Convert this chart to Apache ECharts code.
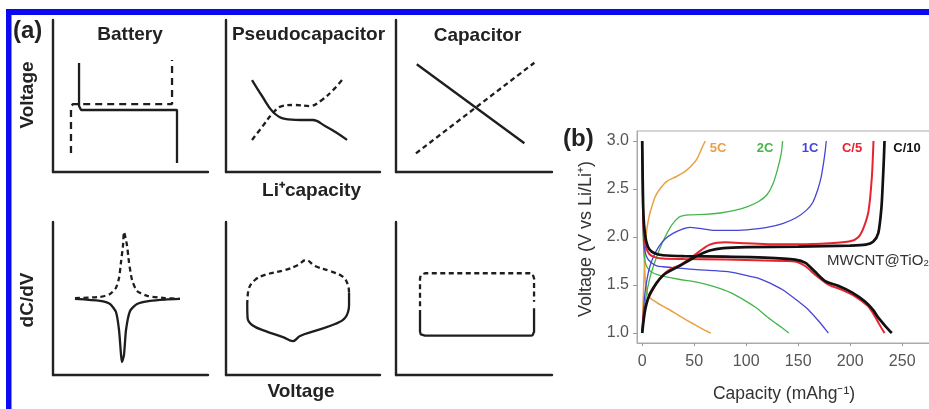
<!DOCTYPE html>
<html><head><meta charset="utf-8">
<script src="https://cdn.jsdelivr.net/npm/echarts@6/dist/echarts.min.js"></script>
<style>html,body{margin:0;padding:0;background:#fff}#c{width:929px;height:409px}</style>
</head><body><div id="c"></div>
<script>
// ---------- Panel (a): schematic curves (axes 0..100) ----------
var battSolid   = [[16.8,71.7],[16.8,43.4],[18.1,40.8],[80,40.8],[80,5.9]];
var battDashed  = [[11.6,12.5],[11.6,43.4],[12.9,44.7],[76.8,44.7],[76.8,73.7]];
var pseudoSolid = [[16.9,60.5],[23.4,50.0],[30.5,39.5],[38.3,34.9],[48.1,34.2],[56.5,34.2],[64.3,30.3],[72.1,25.7],[78.6,21.1]];
var pseudoDashed= [[16.9,21.1],[23.4,29.6],[30.5,38.8],[36.4,43.4],[44.8,44.1],[54.5,43.4],[62.3,47.4],[69.5,53.9],[75.3,60.5]];
var capSolid    = [[13.3,70.9],[82.3,18.9]];
var capDashed   = [[12.8,12.3],[88.7,71.9]];
var dBattDashed = [[14.2,50.3],[30.3,51.0],[36.8,52.9],[40.6,56.9],[42.6,63.4],[43.9,73.9],[45.2,85.0],[45.8,93.5],[47.7,85.0],[49.0,73.9],[51.0,62.1],[54.2,54.9],[61.3,51.6],[72.3,50.3],[81.9,49.7]];
var dBattSolid  = [[14.2,49.7],[30.3,48.4],[36.8,46.4],[40.6,41.2],[42.6,29.4],[43.9,13.1],[44.5,8.5],[45.8,13.1],[47.1,29.4],[49.7,41.8],[54.2,46.4],[62.6,48.4],[72.3,49.3],[81.9,49.7]];
var dPseudoDashed = [[13.8,45.8],[14.6,55.6],[18.8,62.1],[25.3,65.4],[38.3,68.6],[46.8,71.9],[51.9,75.2],[57.8,71.2],[67.5,68.0],[76.0,64.1],[79.2,58.8],[79.9,53.6]];
var dPseudoSolid  = [[13.8,45.8],[14.0,37.3],[16.9,32.7],[25.3,28.8],[37.0,24.8],[43.5,22.2],[48.1,25.5],[57.8,28.8],[70.8,33.3],[77.3,37.3],[79.9,45.8],[79.9,53.6]];
var dCapDashed = [[15.4,45],[15.4,63.2],[15.9,65.3],[17.0,66.3],[18.6,66.5],[85.9,66.5],[87.5,66.3],[88.3,65.3],[88.5,63.2],[88.5,47.9]];
var dCapSolid  = [[15.4,42.5],[15.4,28.3],[15.9,26.5],[17.0,25.9],[18.6,25.7],[85.9,25.7],[87.5,25.9],[88.3,26.5],[88.5,28.3],[88.5,43.6]];

// ---------- Panel (b): charge/discharge (Capacity mAh/g, Voltage V) ----------
var orangeCharge = [[0,1.0],[0.8,1.3],[1.8,1.6],[2.8,1.85],[4,2.04],[6,2.18],[8,2.27],[12.5,2.42],[17,2.5],[23.7,2.58],[33,2.63],[41,2.68],[48,2.75],[53,2.82],[57.5,2.93],[60.6,3.0]];
var orangeDischarge = [[0,3.0],[0.4,2.5],[1,2.1],[2,1.78],[3,1.55],[4.5,1.44],[6,1.39],[8,1.36],[15,1.31],[25,1.25],[37,1.17],[50,1.09],[60,1.03],[66,1.0]];
var greenCharge = [[0,1.0],[1.5,1.2],[3,1.33],[4.5,1.43],[8,1.6],[12.5,1.75],[17,1.88],[22,2.0],[27,2.1],[31,2.16],[36,2.21],[45,2.23],[60,2.235],[75,2.25],[90,2.28],[102,2.32],[112,2.37],[120,2.44],[126,2.56],[130.5,2.72],[133.5,2.86],[135,3.0]];
var greenDischarge = [[0,3.0],[0.4,2.4],[1,2.0],[2,1.8],[4,1.7],[8,1.64],[14,1.61],[20.5,1.59],[35,1.56],[52.6,1.53],[70,1.48],[85,1.42],[100,1.33],[110,1.26],[120,1.17],[130,1.09],[141,1.0]];
var blueCharge = [[0,1.0],[1,1.2],[2.5,1.4],[4.5,1.55],[7,1.68],[11,1.8],[16,1.9],[22,1.98],[30,2.04],[38,2.08],[46,2.10],[55,2.09],[70,2.07],[90,2.07],[105,2.08],[120,2.10],[135,2.14],[148,2.2],[158,2.28],[164,2.36],[169,2.5],[172,2.62],[174.5,2.78],[176,2.9],[177,3.0]];
var blueDischarge = [[0,3.0],[0.5,2.5],[1,2.1],[2,1.9],[4,1.8],[8,1.74],[14,1.7],[20,1.69],[35,1.675],[52,1.66],[70,1.65],[85,1.635],[100,1.6],[112,1.57],[123,1.52],[135,1.45],[150,1.33],[160,1.24],[170,1.12],[176,1.04],[179,1.0]];
var redCharge = [[0,1.0],[1,1.15],[3,1.28],[7.7,1.40],[14,1.52],[20.5,1.61],[28,1.67],[36.5,1.71],[45,1.77],[52.6,1.83],[60,1.89],[65,1.92],[72,1.94],[80,1.945],[100,1.935],[123,1.925],[150,1.925],[180,1.935],[200,1.955],[208,2.0],[213,2.1],[217.6,2.27],[220.8,2.62],[222.4,3.0]];
var redDischarge = [[0,3.0],[0.5,2.5],[1,2.2],[2,2.0],[4,1.88],[7,1.82],[12,1.79],[20,1.775],[40,1.77],[80,1.765],[118,1.755],[147,1.745],[157,1.695],[166,1.61],[179,1.505],[192,1.45],[205,1.38],[217,1.28],[224,1.17],[228,1.09],[233,1.0]];
var blackCharge = [[0,1.0],[3,1.25],[8,1.42],[20,1.6],[36,1.70],[52,1.8],[65,1.86],[78,1.885],[100,1.895],[150,1.9],[200,1.91],[215,1.92],[222,1.95],[227,2.04],[230,2.3],[231.5,2.6],[232.5,2.85],[233,3.0]];
var blackDischarge = [[0,3.0],[0.5,2.6],[1,2.3],[2,2.1],[4,1.95],[7,1.87],[12,1.83],[20,1.81],[40,1.80],[80,1.795],[118,1.785],[147,1.765],[157,1.73],[166,1.64],[176,1.54],[189,1.49],[202,1.42],[214,1.33],[222,1.24],[227,1.16],[234,1.07],[240,1.0]];

var xTicks = [0,50,100,150,200,250];
var yTicks = [1.0,1.5,2.0,2.5,3.0];
var rateLabels = ['5C','2C','1C','C/5','C/10'];
var rateColors = ['#EAA045','#45B54A','#4545D6','#E8222E','#111111'];

// ---------- layout ----------
var cols = [[53,155],[226,154],[396,156]];
var rows = [[20,152],[222,153]];
var grids = [], xAxes = [], yAxes = [], series = [];
var FONT = '"Liberation Sans", Arial, sans-serif';
var smallAxis = {type:'value',min:0,max:100,splitLine:{show:false},axisTick:{show:false},axisLabel:{show:false},
  axisLine:{show:true,lineStyle:{color:'#222',width:2.4}}};
var k = 0;
rows.forEach(function(r){ cols.forEach(function(c){
  grids.push({left:c[0],top:r[0],width:c[1],height:r[1],outerBoundsMode:'none',containLabel:false});
  xAxes.push(Object.assign({gridIndex:k},smallAxis));
  yAxes.push(Object.assign({gridIndex:k},smallAxis));
  k++;
});});
var schem = [
  [battSolid,battDashed,false],[pseudoSolid,pseudoDashed,0.4],[capSolid,capDashed,false],
  [dBattSolid,dBattDashed,0.2],[dPseudoSolid,dPseudoDashed,0.4],[dCapSolid,dCapDashed,false]
];
schem.forEach(function(s,i){
  series.push({type:'line',xAxisIndex:i,yAxisIndex:i,data:s[0],showSymbol:false,smooth:s[2],silent:true,
    lineStyle:{color:'#1e1e1e',width:2.3}});
  series.push({type:'line',xAxisIndex:i,yAxisIndex:i,data:s[1],showSymbol:false,smooth:s[2],silent:true,
    lineStyle:{color:'#1e1e1e',width:2.3,type:(i===0?[7,5]:[5,3.5])}});
});

// panel b grid
var gb = 6;
grids.push({left:637,top:131,width:306.8,height:212,outerBoundsMode:'none',containLabel:false,
  show:true,borderColor:'#aaaaaa',borderWidth:1,backgroundColor:'transparent'});
xAxes.push({gridIndex:gb,type:'value',min:-5,max:290,splitLine:{show:false},
  axisLine:{show:true,onZero:false,lineStyle:{color:'#aaaaaa'}},
  axisTick:{show:true,length:3,lineStyle:{color:'#999'},customValues:xTicks},
  axisLabel:{show:true,customValues:xTicks,color:'#555',fontSize:16,fontFamily:FONT,margin:11}});
yAxes.push({gridIndex:gb,type:'value',min:0.896,max:3.104,splitLine:{show:false},
  axisLine:{show:true,onZero:false,lineStyle:{color:'#aaaaaa'}},
  axisTick:{show:true,length:4,lineStyle:{color:'#999'},customValues:yTicks},
  axisLabel:{show:true,customValues:yTicks,color:'#555',fontSize:16,fontFamily:FONT,margin:8,
    formatter:function(v){return v.toFixed(1);}}});
var curves = [[orangeCharge,orangeDischarge],[greenCharge,greenDischarge],[blueCharge,blueDischarge],[redCharge,redDischarge],[blackCharge,blackDischarge]];
var widths = [1.5,1.3,1.3,2.0,2.7];
curves.forEach(function(cv,i){
  cv.forEach(function(d){
    series.push({type:'line',name:rateLabels[i],xAxisIndex:gb,yAxisIndex:gb,data:d,showSymbol:false,smooth:0.25,silent:true,
      lineStyle:{color:rateColors[i],width:widths[i]}});
  });
});

// ---------- text ----------
function txt(t,x,y,size,bold,opt){
  opt = opt||{};
  return {type:'text',x:x,y:y,rotation:opt.rot||0,silent:true,z:10,
    style:{text:t,fontSize:size,fontWeight:bold?'bold':'normal',fontFamily:FONT,fill:opt.color||'#222',
      align:opt.align||'center',verticalAlign:'middle'}};
}
var labelX = [718,765,810,852,907];
var graphic = [
  {type:'rect',shape:{x:6,y:9,width:5.5,height:400},style:{fill:'#0a0af0'},silent:true},
  {type:'rect',shape:{x:6,y:9,width:923,height:6},style:{fill:'#0a0af0'},silent:true},
  txt('(a)',13,31,24,true,{align:'left'}),
  txt('Battery',130,35,19,true),
  txt('Pseudocapacitor',308.5,35,19,true),
  txt('Capacitor',477.5,36,19,true),
  txt('Voltage',27.5,95,19,true,{rot:Math.PI/2}),
  txt('Li\u207Acapacity',311.5,191,19,true),
  txt('dC/dV',27.5,300,19,true,{rot:Math.PI/2}),
  txt('Voltage',301,392,19,true),
  txt('(b)',563,139,24,true,{align:'left'}),
  txt('Voltage (V vs Li/Li\u207A)',586,239,18,false,{rot:Math.PI/2,color:'#333'}),
  txt('Capacity (mAhg\u207B\u00B9)',784,394,17.5,false,{color:'#333'}),
  txt('MWCNT@TiO\u2082',827,261,15,false,{align:'left',color:'#333'})
];
rateLabels.forEach(function(l,i){
  graphic.push(txt(l,labelX[i],148,13,true,{color:rateColors[i]}));
});

var chart = echarts.init(document.getElementById('c'),null,{renderer:'canvas'});
chart.setOption({backgroundColor:'#fff',animation:false,grid:grids,xAxis:xAxes,yAxis:yAxes,series:series,graphic:graphic});
</script></body></html>
